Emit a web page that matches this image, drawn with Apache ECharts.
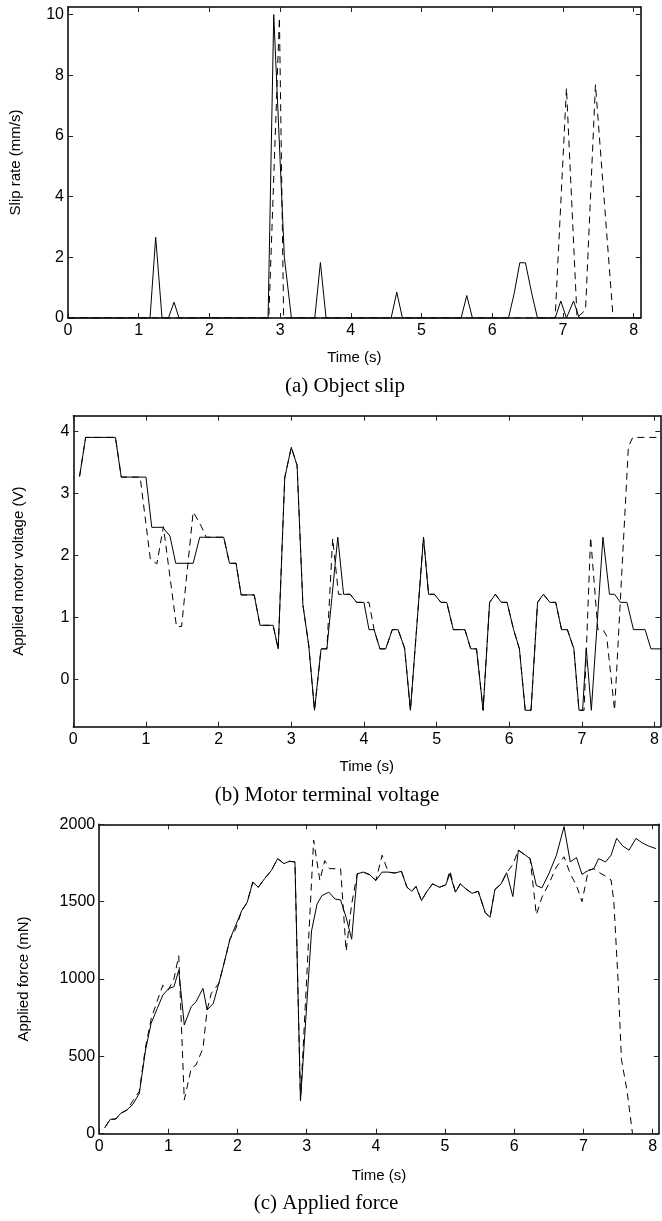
<!DOCTYPE html>
<html>
<head>
<meta charset="utf-8">
<title>Object slip, motor voltage, applied force</title>
<script src="https://cdn.jsdelivr.net/npm/echarts@6/dist/echarts.min.js"></script>
</head>
<body style="margin:0;background:#fff">
<div id="main" style="width:662px;height:1221px;"></div>
<script>
// (a) slip rate (mm/s); 1 = solid, 2 = dashed
var slipT1 = [0, 1.16, 1.24, 1.33, 1.42, 1.50, 1.57, 2.83, 2.91, 3.06, 3.16, 3.49, 3.57, 3.65, 4.57, 4.65, 4.73, 5.56, 5.64, 5.72, 6.23, 6.31, 6.39, 6.47, 6.56, 6.64, 6.89, 6.97, 7.05, 7.15, 7.23, 8.1];
var slipV1 = [0, 0, 2.66, 0, 0, 0.52, 0, 0, 10, 2, 0, 0, 1.83, 0, 0, 0.85, 0, 0, 0.74, 0, 0, 0.8, 1.82, 1.82, 0.8, 0, 0, 0.56, 0, 0.56, 0, 0];
var slipT2 = [0, 2.84, 2.99, 3.05, 6.89, 7.05, 7.20, 7.32, 7.46, 7.71];
var slipV2 = [0, 0, 9.9, 0, 0, 7.58, 0, 0.27, 7.69, 0];

// (b) applied motor voltage (V)
var voltT1 = [0.086, 0.17, 0.58, 0.66, 1.0, 1.08, 1.23, 1.33, 1.41, 1.65, 1.74, 2.07, 2.15, 2.24, 2.31, 2.49, 2.57, 2.75, 2.82, 2.91, 3.0, 3.08, 3.16, 3.24, 3.32, 3.41, 3.49, 3.64, 3.72, 3.81, 3.90, 4.0, 4.07, 4.14, 4.22, 4.30, 4.39, 4.47, 4.56, 4.64, 4.82, 4.89, 4.97, 5.06, 5.14, 5.23, 5.39, 5.47, 5.55, 5.64, 5.73, 5.81, 5.89, 5.97, 6.06, 6.14, 6.22, 6.30, 6.39, 6.47, 6.56, 6.64, 6.72, 6.80, 6.89, 6.96, 7.01, 7.06, 7.13, 7.29, 7.38, 7.45, 7.53, 7.62, 7.71, 7.87, 7.95, 8.1];
var voltV1 = [3.27, 3.90, 3.90, 3.26, 3.26, 2.45, 2.45, 2.31, 1.87, 1.87, 2.29, 2.29, 1.87, 1.87, 1.36, 1.36, 0.87, 0.87, 0.49, 3.25, 3.74, 3.45, 1.2, 0.55, -0.5, 0.49, 0.49, 2.29, 1.37, 1.37, 1.24, 1.24, 0.8, 0.8, 0.49, 0.49, 0.8, 0.8, 0.5, -0.5, 2.29, 1.37, 1.37, 1.24, 1.24, 0.8, 0.8, 0.49, 0.49, -0.5, 1.24, 1.37, 1.24, 1.24, 0.8, 0.49, -0.5, -0.5, 1.24, 1.37, 1.24, 1.24, 0.8, 0.8, 0.49, -0.5, -0.5, 0.5, -0.5, 2.29, 1.37, 1.37, 1.24, 1.24, 0.8, 0.8, 0.49, 0.49];
var voltT2 = [0.086, 0.17, 0.58, 0.66, 0.92, 1.06, 1.15, 1.24, 1.42, 1.49, 1.65, 1.76, 1.83, 2.07, 2.15, 2.24, 2.31, 2.49, 2.57, 2.75, 2.82, 2.91, 3.0, 3.08, 3.16, 3.24, 3.32, 3.41, 3.49, 3.57, 3.65, 3.72, 3.81, 3.90, 4.0, 4.07, 4.14, 4.22, 4.30, 4.39, 4.47, 4.56, 4.64, 4.82, 4.89, 4.97, 5.06, 5.14, 5.23, 5.39, 5.47, 5.55, 5.64, 5.73, 5.81, 5.89, 5.97, 6.06, 6.14, 6.22, 6.30, 6.39, 6.47, 6.56, 6.64, 6.72, 6.80, 6.89, 6.96, 7.03, 7.12, 7.22, 7.29, 7.34, 7.45, 7.64, 7.70, 8.1];
var voltV2 = [3.27, 3.90, 3.90, 3.26, 3.26, 1.94, 1.86, 2.46, 0.85, 0.85, 2.70, 2.47, 2.29, 2.29, 1.87, 1.87, 1.36, 1.36, 0.87, 0.87, 0.49, 3.25, 3.74, 3.45, 1.2, 0.55, -0.5, 0.49, 0.49, 2.27, 1.37, 1.37, 1.37, 1.24, 1.24, 1.24, 0.8, 0.49, 0.49, 0.8, 0.8, 0.5, -0.5, 2.29, 1.37, 1.37, 1.24, 1.24, 0.8, 0.8, 0.49, 0.49, -0.5, 1.24, 1.37, 1.24, 1.24, 0.8, 0.49, -0.5, -0.5, 1.24, 1.37, 1.24, 1.24, 0.8, 0.8, 0.49, -0.5, -0.5, 2.29, 0.8, 0.8, 0.7, -0.5, 3.75, 3.9, 3.9];

// (c) applied force (mN)
var forceT1 = [0.08, 0.16, 0.24, 0.31, 0.40, 0.49, 0.58, 0.67, 0.75, 0.84, 0.92, 1.01, 1.08, 1.15, 1.23, 1.33, 1.40, 1.50, 1.56, 1.65, 1.73, 1.80, 1.89, 1.97, 2.06, 2.14, 2.22, 2.30, 2.39, 2.49, 2.58, 2.67, 2.75, 2.83, 2.91, 3.07, 3.15, 3.22, 3.32, 3.41, 3.49, 3.57, 3.65, 3.73, 3.82, 3.91, 4.0, 4.09, 4.18, 4.27, 4.37, 4.45, 4.52, 4.58, 4.66, 4.73, 4.82, 4.92, 5.01, 5.07, 5.15, 5.22, 5.30, 5.39, 5.48, 5.58, 5.65, 5.72, 5.81, 5.89, 5.98, 6.06, 6.15, 6.23, 6.32, 6.40, 6.50, 6.61, 6.72, 6.81, 6.90, 6.98, 7.07, 7.15, 7.22, 7.32, 7.40, 7.48, 7.57, 7.66, 7.76, 7.85, 7.94, 8.05];
var forceV1 = [39, 93, 95, 131, 153, 192, 261, 541, 713, 810, 896, 940, 950, 1056, 703, 821, 853, 940, 800, 843, 972, 1093, 1257, 1343, 1441, 1496, 1626, 1593, 1648, 1702, 1778, 1746, 1761, 1757, 213, 1311, 1485, 1539, 1561, 1517, 1511, 1398, 1257, 1680, 1691, 1674, 1637, 1691, 1691, 1685, 1696, 1593, 1567, 1598, 1507, 1561, 1615, 1593, 1609, 1680, 1561, 1615, 1583, 1554, 1567, 1430, 1398, 1578, 1615, 1687, 1533, 1833, 1804, 1778, 1604, 1589, 1680, 1800, 1985, 1757, 1785, 1676, 1702, 1713, 1778, 1757, 1800, 1909, 1859, 1833, 1909, 1880, 1860, 1843];
var forceT2 = [0.08, 0.16, 0.24, 0.31, 0.40, 0.49, 0.58, 0.67, 0.75, 0.84, 0.92, 1.0, 1.08, 1.15, 1.23, 1.33, 1.40, 1.50, 1.56, 1.62, 1.73, 1.80, 1.89, 1.97, 2.06, 2.14, 2.22, 2.30, 2.39, 2.49, 2.58, 2.67, 2.75, 2.83, 2.91, 3.10, 3.19, 3.26, 3.33, 3.49, 3.57, 3.65, 3.73, 3.82, 3.91, 4.0, 4.09, 4.18, 4.27, 4.37, 4.45, 4.52, 4.58, 4.66, 4.73, 4.82, 4.92, 5.01, 5.07, 5.15, 5.22, 5.30, 5.39, 5.48, 5.58, 5.65, 5.72, 5.81, 5.89, 5.98, 6.06, 6.15, 6.23, 6.32, 6.40, 6.50, 6.61, 6.72, 6.81, 6.90, 6.98, 7.07, 7.15, 7.22, 7.32, 7.40, 7.44, 7.50, 7.55, 7.63, 7.71];
var forceV2 = [39, 93, 95, 131, 153, 215, 275, 560, 740, 860, 960, 930, 1000, 1150, 218, 422, 444, 552, 800, 907, 972, 1093, 1257, 1320, 1441, 1496, 1626, 1593, 1648, 1702, 1778, 1746, 1761, 1757, 213, 1898, 1637, 1765, 1713, 1713, 1180, 1485, 1680, 1691, 1674, 1637, 1800, 1691, 1685, 1696, 1593, 1567, 1598, 1507, 1561, 1615, 1593, 1609, 1700, 1561, 1615, 1583, 1554, 1567, 1430, 1398, 1578, 1615, 1687, 1740, 1833, 1804, 1778, 1415, 1528, 1615, 1724, 1790, 1680, 1604, 1500, 1700, 1713, 1690, 1665, 1640, 1500, 1000, 480, 280, 0];

// tick labels
var timeTicks = [0, 1, 2, 3, 4, 5, 6, 7, 8];
var slipTicks = [0, 2, 4, 6, 8, 10];
var voltTicks = [0, 1, 2, 3, 4];
var forceTicks = [0, 500, 1000, 1500, 2000];

var captions = ['(a) Object slip', '(b) Motor terminal voltage', '(c) Applied force'];

function pairs(t, v) {
    return t.map(function (x, i) { return [x, v[i]]; });
}
function plain(v) { return String(v); }   // no thousands separator

var sans = 'Liberation Sans, Arial, sans-serif';

var panels = [
    {left: 65, top: 7, width: 575.7, height: 311, xMax: 8.1, yMin: 0, yMax: 10.25, yTicks: slipTicks,
     yName: 'Slip rate (mm/s)', yGap: 45, xGap: 32, s1: pairs(slipT1, slipV1), s2: pairs(slipT2, slipV2),
     cap: captions[0], capX: 345, capY: 386},
    {left: 73.3, top: 415.7, width: 592.7, height: 311, xMax: 8.08, yMin: -0.765, yMax: 4.25, yTicks: voltTicks,
     yName: 'Applied motor voltage (V)', yGap: 47, xGap: 33, s1: pairs(voltT1, voltV1), s2: pairs(voltT2, voltV2),
     cap: captions[1], capX: 327, capY: 795},
    {left: 99.2, top: 824.3, width: 559.6, height: 309.4, xMax: 8.09, yMin: 0, yMax: 2000, yTicks: forceTicks,
     yName: 'Applied force (mN)', yGap: 68, xGap: 35, s1: pairs(forceT1, forceV1), s2: pairs(forceT2, forceV2),
     cap: captions[2], capX: 326, capY: 1203}
];

var grid = [], xAxis = [], yAxis = [], series = [], graphic = [];
var lineAx = {show: true, onZero: false, lineStyle: {color: '#000', width: 1.5}};
var tickIn = {show: true, inside: true, length: 5, lineStyle: {color: '#222', width: 1}};

panels.forEach(function (p, i) {
    grid.push({left: p.left, top: p.top, width: p.width, height: p.height, containLabel: false});
    // bottom and top time axes
    xAxis.push({
        type: 'value', gridIndex: i, position: 'bottom', min: 0, max: p.xMax,
        name: 'Time (s)', nameLocation: 'middle', nameGap: p.xGap,
        nameTextStyle: {fontFamily: sans, fontSize: 15, color: '#000'},
        axisLine: lineAx,
        axisTick: Object.assign({customValues: timeTicks}, tickIn),
        axisLabel: {customValues: timeTicks, margin: 5, formatter: plain, fontFamily: sans, fontSize: 16, color: '#000'},
        splitLine: {show: false}
    });
    xAxis.push({
        type: 'value', gridIndex: i, position: 'top', min: 0, max: p.xMax,
        axisLine: lineAx,
        axisTick: Object.assign({customValues: timeTicks}, tickIn),
        axisLabel: {show: false},
        splitLine: {show: false}
    });
    // left and right value axes
    yAxis.push({
        type: 'value', gridIndex: i, position: 'left', min: p.yMin, max: p.yMax,
        name: p.yName, nameLocation: 'middle', nameGap: p.yGap, nameRotate: 90,
        nameTextStyle: {fontFamily: sans, fontSize: 15, color: '#000'},
        axisLine: lineAx,
        axisTick: Object.assign({customValues: p.yTicks}, tickIn),
        axisLabel: {customValues: p.yTicks, margin: 4, formatter: plain, fontFamily: sans, fontSize: 16, color: '#000'},
        splitLine: {show: false}
    });
    yAxis.push({
        type: 'value', gridIndex: i, position: 'right', min: p.yMin, max: p.yMax,
        axisLine: lineAx,
        axisTick: Object.assign({customValues: p.yTicks}, tickIn),
        axisLabel: {show: false},
        splitLine: {show: false}
    });
    series.push({
        type: 'line', xAxisIndex: 2 * i, yAxisIndex: 2 * i, data: p.s2,
        showSymbol: false, symbol: 'none', silent: true,
        lineStyle: {color: '#000', width: 1, type: [7, 5]}
    });
    series.push({
        type: 'line', xAxisIndex: 2 * i, yAxisIndex: 2 * i, data: p.s1,
        showSymbol: false, symbol: 'none', silent: true,
        lineStyle: {color: '#000', width: 1}
    });
    graphic.push({
        type: 'text', x: p.capX, y: p.capY,
        style: {text: p.cap, font: '21px "Liberation Serif", "Times New Roman", serif',
                fill: '#000', textAlign: 'center', textVerticalAlign: 'middle'}
    });
});

var myChart = echarts.init(document.getElementById('main'));
myChart.setOption({
    animation: false,
    backgroundColor: '#fff',
    grid: grid,
    xAxis: xAxis,
    yAxis: yAxis,
    series: series,
    graphic: graphic
});
</script>
</body>
</html>
